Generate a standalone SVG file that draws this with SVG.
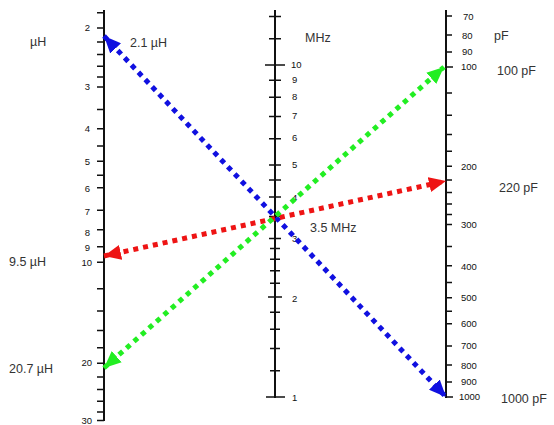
<svg xmlns="http://www.w3.org/2000/svg" width="554" height="425" viewBox="0 0 554 425">
<style>
.axis{stroke:#111;stroke-width:2;fill:none}
.tick{stroke:#111;stroke-width:1.5}
.tl{font-family:"Liberation Sans",Arial,sans-serif;font-size:9.5px;fill:#111}
.tlr{font-family:"Liberation Sans",Arial,sans-serif;font-size:9.5px;fill:#111;text-anchor:end}
.lab{font-family:"Liberation Sans",Arial,sans-serif;font-size:12.5px;fill:#333}
.con{fill:none;stroke-width:5;stroke-dasharray:5 5}
</style>
<defs>
<marker id="ab" viewBox="0 0 17 15" refX="17" refY="7.5" markerWidth="17" markerHeight="15" markerUnits="userSpaceOnUse" orient="auto-start-reverse"><path d="M0,0 L17,7.5 L0,15 Z" fill="#1010e0"/></marker>
<marker id="ar" viewBox="0 0 17 15" refX="17" refY="7.5" markerWidth="17" markerHeight="15" markerUnits="userSpaceOnUse" orient="auto-start-reverse"><path d="M0,0 L17,7.5 L0,15 Z" fill="#ee1414"/></marker>
<marker id="ag" viewBox="0 0 17 15" refX="17" refY="7.5" markerWidth="17" markerHeight="15" markerUnits="userSpaceOnUse" orient="auto-start-reverse"><path d="M0,0 L17,7.5 L0,15 Z" fill="#22ee22"/></marker>
</defs>
<rect width="554" height="425" fill="#fff"/>

<g id="scale-L">
<line class="axis" x1="104" y1="10" x2="104" y2="421"/>
<path class="tick" d="M97,12.7H104M97,28H104M97,41.9H104M97,54.5H104M97,66.2H104M97,77H104M97,87H104M97,109.4H104M97,128.8H104M97,146H104M97,161.3H104M97,175.2H104M97,187.8H104M97,210.3H104M97,229.7H104M97,246.8H104M97,262.2H104M97,288.7H104M97,311.1H104M97,330.5H104M97,347.7H104M97,363.2H104M97,377.1H104M97,389.5H104M97,401.2H104M97,411.9H104M97,420.5H104"/>
<text class="tlr" x="90" y="31">2</text>
<text class="tlr" x="90" y="90">3</text>
<text class="tlr" x="90" y="132">4</text>
<text class="tlr" x="90" y="165">5</text>
<text class="tlr" x="90" y="192">6</text>
<text class="tlr" x="90" y="215">7</text>
<text class="tlr" x="90" y="236">8</text>
<text class="tlr" x="90" y="251">9</text>
<text class="tlr" x="92" y="266">10</text>
<text class="tlr" x="92" y="366">20</text>
<text class="tlr" x="92" y="424">30</text>
<text class="lab" x="30" y="46">µH</text>
</g>

<g id="scale-f">
<line class="axis" x1="275" y1="10" x2="275" y2="398"/>
<path class="tick" d="M269,16.5H281M269,38.7H281M265,65H285M269,80.2H281M269,97.2H281M269,116.4H281M269,138.7H281M269,164.9H281M269,180.1H281M269,197.1H281M269,216.4H281M269,238.6H281M270,248.5H280M270,259.2H280M270,270.8H280M270,283.3H280M268,297.1H282M270,312.2H280M270,329.2H280M270,348.5H280M270,370.7H280M266,397H285"/>
<text class="tl" x="291" y="68">10</text>
<text class="tl" x="292" y="83">9</text>
<text class="tl" x="292" y="100">8</text>
<text class="tl" x="292" y="119">7</text>
<text class="tl" x="292" y="141">6</text>
<text class="tl" x="292" y="168">5</text>
<text class="tl" x="292" y="201">4</text>
<text class="tl" x="292" y="242">3</text>
<text class="tl" x="292" y="302">2</text>
<text class="tl" x="292" y="401">1</text>
<text class="lab" x="305" y="42">MHz</text>
</g>

<g id="scale-C">
<line class="axis" x1="446" y1="10" x2="446" y2="398"/>
<path class="tick" d="M446,15.9H452M446,35H452M446,51.9H452M446,67H453M446,93.1H452M446,115.2H452M446,134.4H452M446,151.2H452M446,166.3H452M446,180H452M446,192.5H452M446,203.9H452M446,214.6H452M446,224.5H452M446,246.5H452M446,265.7H452M446,282.6H452M446,297.7H452M446,311.3H452M446,323.8H452M446,345.9H452M446,365H452M446,381.9H452M446,397H453"/>
<text class="tl" x="463" y="20">70</text>
<text class="tl" x="462" y="39">80</text>
<text class="tl" x="462" y="55">90</text>
<text class="tl" x="461" y="70">100</text>
<text class="tl" x="461" y="170">200</text>
<text class="tl" x="461" y="228">300</text>
<text class="tl" x="461" y="270">400</text>
<text class="tl" x="461" y="301">500</text>
<text class="tl" x="461" y="327">600</text>
<text class="tl" x="461" y="349">700</text>
<text class="tl" x="461" y="369">800</text>
<text class="tl" x="461" y="385">900</text>
<text class="tl" x="459" y="400">1000</text>
<text class="lab" x="494" y="40">pF</text>
</g>

<g id="connectors">
<line class="con" stroke="#1010e0" x1="104" y1="36" x2="446" y2="397" marker-start="url(#ab)" marker-end="url(#ab)"/>
<line class="con" stroke="#ee1414" x1="104" y1="256" x2="446" y2="181" marker-start="url(#ar)" marker-end="url(#ar)"/>
<line class="con" stroke="#22ee22" x1="104" y1="368" x2="444" y2="67" marker-start="url(#ag)" marker-end="url(#ag)"/>
</g>

<g id="labels">
<text class="lab" x="130" y="47">2.1 µH</text>
<text class="lab" x="310" y="232">3.5 MHz</text>
<text class="lab" x="9" y="266">9.5 µH</text>
<text class="lab" x="9" y="373">20.7 µH</text>
<text class="lab" x="497" y="75">100 pF</text>
<text class="lab" x="499" y="192">220 pF</text>
<text class="lab" x="501" y="403">1000 pF</text>
</g>
</svg>
